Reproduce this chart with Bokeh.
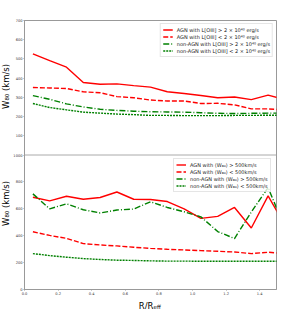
from bokeh.plotting import figure
from bokeh.layouts import column, row
from bokeh.models import (Range1d, FixedTicker, Legend, LegendItem, Label, Span,
                          PrintfTickFormatter)
from bokeh.embed import file_html
from bokeh.resources import INLINE

# ---------------- data ----------------
r_reff = [0.05, 0.15, 0.25, 0.35, 0.45, 0.55, 0.65, 0.75,
          0.85, 0.95, 1.05, 1.15, 1.25, 1.35, 1.45, 1.55]

# top panel: split by [OIII] luminosity
agn_hi_lum = [526, 491, 457, 377, 368, 370, 361, 353, 329, 320, 310, 298, 302, 288, 312, 288]
agn_lo_lum = [351, 349, 346, 329, 324, 304, 298, 286, 281, 281, 268, 269, 261, 240, 240, 234]
non_hi_lum = [309, 290, 266, 250, 238, 232, 228, 225, 224, 223, 220, 217, 216, 217, 218, 218]
non_lo_lum = [268, 247, 235, 223, 218, 213, 210, 206, 206, 205, 205, 205, 206, 206, 207, 207]

# bottom panel: split by <W80>
agn_hi_w80 = [686, 659, 693, 671, 684, 725, 671, 669, 654, 600, 529, 544, 610, 457, 696, 478]
agn_lo_w80 = [429, 402, 380, 341, 331, 324, 314, 306, 299, 294, 289, 284, 279, 267, 277, 267]
non_hi_w80 = [711, 600, 637, 593, 569, 591, 598, 652, 610, 578, 540, 431, 379, 576, 758, 455]
non_lo_w80 = [267, 252, 240, 230, 223, 218, 216, 213, 211, 211, 210, 210, 210, 210, 210, 210]

x_ticks = [0.0, 0.2, 0.4, 0.6, 0.8, 1.0, 1.2, 1.4]
# shared left axis: lower half = bottom panel (0..1000), upper half = top panel (0..700)
ytick_pos = [0, 140, 280, 420, 560, 700, 800, 900, 1000, 1100, 1200, 1300, 1400]
ytick_labels = ["0", "200", "400", "600", "800", "1000",
                "100", "200", "300", "400", "500", "600", "700"]

lum_labels = ["AGN with L[OIII] > 2 × 10⁴⁰ erg/s",
              "AGN with L[OIII] < 2 × 10⁴⁰ erg/s",
              "non-AGN with L[OIII] > 2 × 10⁴⁰ erg/s",
              "non-AGN with L[OIII] < 2 × 10⁴⁰ erg/s"]
w80_labels = ["AGN with ⟨W₈₀⟩ > 500km/s",
              "AGN with ⟨W₈₀⟩ < 500km/s",
              "non-AGN with ⟨W₈₀⟩ > 500km/s",
              "non-AGN with ⟨W₈₀⟩ < 500km/s"]

RED = "#ff0000"
GREEN = "#008000"
GREY = "#999999"
FONT = "DejaVu Sans"

YLAB_W = 10
MAIN_W, MAIN_H = 276, 297
XLAB_H = 12

p = figure(width=MAIN_W, height=MAIN_H, x_range=Range1d(0, 1.5), y_range=Range1d(0, 1400),
           output_backend="svg", toolbar_location=None,
           min_border_left=11, min_border_right=10, min_border_top=20, min_border_bottom=7)
p.extra_y_ranges = {"top": Range1d(-700, 700), "bot": Range1d(0, 2000)}
p.grid.visible = False
p.outline_line_color = GREY
p.background_fill_color = "white"

for ax in (p.xaxis[0], p.yaxis[0]):
    ax.axis_line_color = GREY
    ax.major_tick_line_color = GREY
    ax.minor_tick_line_color = None
    ax.major_tick_out = 1
    ax.major_tick_in = 0
    ax.major_label_text_font = FONT
    ax.major_label_text_font_size = "3.6px"
    ax.major_label_text_color = "#333333"
    ax.major_label_standoff = 1

p.xaxis.ticker = FixedTicker(ticks=x_ticks)
p.xaxis.formatter = PrintfTickFormatter(format="%.1f")
p.yaxis.ticker = FixedTicker(ticks=ytick_pos)
p.yaxis.major_label_overrides = dict(zip(ytick_pos, ytick_labels))

p.add_layout(Span(location=700, dimension="width", line_color="#aaaaaa", line_width=1))

lw = 1.4
styles = [dict(color=RED, line_dash="solid"),
          dict(color=RED, line_dash="5 2"),
          dict(color=GREEN, line_dash="6 2 1 2"),
          dict(color=GREEN, line_dash="2 1")]

top_series = [agn_hi_lum, agn_lo_lum, non_hi_lum, non_lo_lum]
bot_series = [agn_hi_w80, agn_lo_w80, non_hi_w80, non_lo_w80]

top_r = [p.line(r_reff, ys, y_range_name="top", line_width=lw, **st)
         for ys, st in zip(top_series, styles)]
bot_r = [p.line(r_reff, ys, y_range_name="bot", line_width=lw, **st)
         for ys, st in zip(bot_series, styles)]


def make_legend(labels, renderers, loc):
    leg = Legend(items=[LegendItem(label=l, renderers=[r]) for l, r in zip(labels, renderers)],
                 location=loc)
    leg.label_text_font = FONT
    leg.label_text_font_size = "5px"
    leg.label_text_color = "#222222"
    leg.label_height = 7
    leg.glyph_height = 7
    leg.glyph_width = 10
    leg.spacing = 0
    leg.padding = 2
    leg.label_standoff = 4
    leg.margin = 3
    leg.border_line_color = "#cccccc"
    leg.background_fill_alpha = 0.8
    return leg


p.add_layout(make_legend(lum_labels, top_r, "top_right"))
p.add_layout(make_legend(w80_labels, bot_r, (149, 97)))

# y-axis titles: narrow figure on the left
ylab = figure(width=YLAB_W, height=MAIN_H, x_range=Range1d(0, 1), y_range=Range1d(0, 1),
              output_backend="svg", toolbar_location=None,
              x_axis_location=None, y_axis_location=None,
              min_border_left=0, min_border_right=0, min_border_top=0, min_border_bottom=0)
ylab.grid.visible = False
ylab.outline_line_color = None
for yc in (203, 86):
    ylab.add_layout(Label(x=0, y=yc, x_units="screen", y_units="screen", text="W₈₀ (km/s)",
                          angle=90, angle_units="deg", text_align="center", text_baseline="top",
                          text_font=FONT, text_font_size="8.5px", text_color="#000000"))

# x-axis title: thin figure at the bottom
xlab = figure(width=YLAB_W + MAIN_W, height=XLAB_H, x_range=Range1d(0, 1), y_range=Range1d(0, 1),
              output_backend="svg", toolbar_location=None,
              x_axis_location=None, y_axis_location=None,
              min_border_left=0, min_border_right=0, min_border_top=0, min_border_bottom=0)
xlab.grid.visible = False
xlab.outline_line_color = None
xlab.add_layout(Label(x=153, y=4, x_units="screen", y_units="screen", text="R/R",
                      text_align="right", text_baseline="alphabetic",
                      text_font=FONT, text_font_size="8.5px", text_color="#000000"))
xlab.add_layout(Label(x=153, y=2.5, x_units="screen", y_units="screen", text="eff",
                      text_align="left", text_baseline="alphabetic",
                      text_font=FONT, text_font_size="5.5px", text_color="#000000"))

layout = column(row(ylab, p, spacing=0), xlab, spacing=0)
open("out.html", "w").write(file_html(layout, INLINE))
